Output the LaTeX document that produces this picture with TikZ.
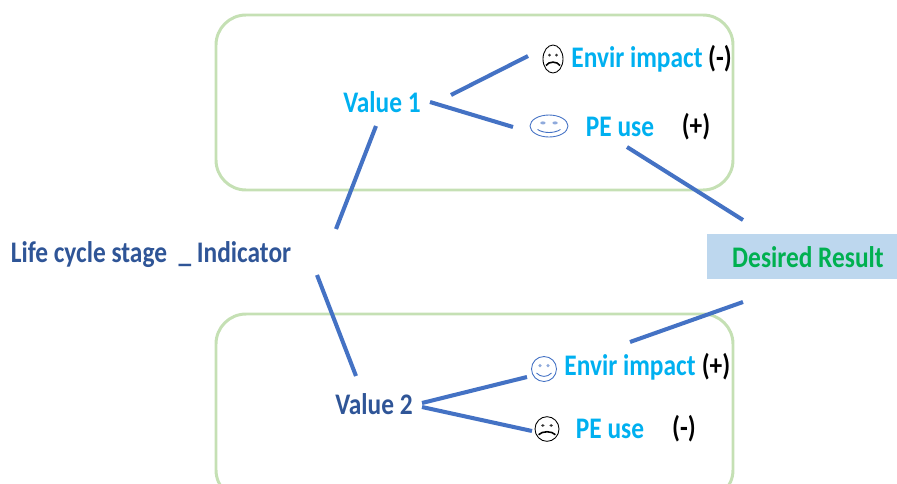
\documentclass[tikz,border=0pt]{standalone}
\usepackage{fontspec}
\setmainfont[FakeStretch=0.85]{Carlito}
\usetikzlibrary{positioning}
\definecolor{boxgreen}{HTML}{C5E0B4}
\definecolor{linkblue}{HTML}{4472C4}
\definecolor{titleblue}{HTML}{2F5597}
\definecolor{labelcyan}{HTML}{00B0F0}
\definecolor{resultgreen}{HTML}{00B050}
\definecolor{resultfill}{HTML}{BDD7EE}
\tikzset{
	groupbox/.style={draw=boxgreen,line width=1.7pt,rounded corners=0.6cm},
	link/.style={draw=linkblue,line width=2.3pt},
	txt/.style={font=\bfseries\fontsize{17}{20}\selectfont,inner sep=0pt},
	dark/.style={txt,text=titleblue},
	cyan/.style={txt,text=labelcyan},
	sign/.style={txt,text=black},
	sadface/.pic={
		\draw [black,line width=0.5pt] (0,0) ellipse [x radius=0.2cm, y radius=0.28cm];
		\fill [black!80] (-0.07cm,0.08cm) circle [radius=0.03cm] (0.07cm,0.08cm) circle [radius=0.03cm];
		\draw [black,line width=0.9pt] (-0.14cm,-0.13cm) .. controls (-0.08cm,-0.04cm) and (0.08cm,-0.04cm) .. (0.14cm,-0.13cm);
	},
	happyface/.pic={
		\draw [linkblue,line width=0.5pt] (0,0) ellipse [x radius=0.25cm, y radius=0.25cm];
		\fill [linkblue!60] (-0.08cm,0.07cm) circle [radius=0.035cm] (0.08cm,0.07cm) circle [radius=0.035cm];
		\draw [linkblue,line width=0.5pt] (-0.15cm,-0.08cm) .. controls (-0.07cm,-0.17cm) and (0.07cm,-0.17cm) .. (0.15cm,-0.08cm);
	}
}
\begin{document}
\begin{tikzpicture}[x=0.02cm,y=-0.02cm]
	\useasboundingbox (0,0) rectangle (897,484);
	\clip (0,0) rectangle (897,484);

	% Value boxes
	\draw [groupbox] (216,15) rectangle (733,190);
	\draw [groupbox] (216,314) rectangle (733,500);

	% Result
	\node [fill=resultfill,minimum width=3.8cm,minimum height=0.9cm,inner sep=0pt] (result) at (802,256.5) {};
	\node [txt,text=resultgreen] (resulttext) at (808,257) {Desired Result};

	% Root
	\node [dark] (stage) at (151,255) {Life cycle stage\ \ \_ Indicator};

	% Value 1 branch
	\node [cyan] (value1) at (382,102) {Value 1};
	\node [cyan] (envir1) at (637,59) {Envir impact};
	\node [sign] (sign1) at (720,59) {(-)};
	\node [cyan] (pe1) at (620,127) {PE use};
	\node [sign] (sign2) at (696,127) {(+)};
	\pic at (553,59) {sadface};
	\pic [xscale=1.52,yscale=0.88] at (549,126) {happyface};

	% Value 2 branch
	\node [dark] (value2) at (374,404) {Value 2};
	\node [cyan] (envir2) at (630,367) {Envir impact};
	\node [sign] (sign3) at (716,367) {(+)};
	\node [cyan] (pe2) at (610,429) {PE use};
	\node [sign] (sign4) at (684,429) {(-)};
	\pic at (544,369) {happyface};
	\pic [xscale=1.2,yscale=0.88] at (547,429) {sadface};

	% Link ends
	\coordinate (a1) at (451,95);
	\coordinate (a2) at (528,56);
	\coordinate (b1) at (430,102);
	\coordinate (b2) at (513,127);
	\coordinate (c1) at (376,126);
	\coordinate (c2) at (336,229);
	\coordinate (d1) at (627,147);
	\coordinate (d2) at (743,220);
	\coordinate (e1) at (317,275);
	\coordinate (e2) at (356,376);
	\coordinate (f1) at (422,403);
	\coordinate (f2) at (527,377);
	\coordinate (g1) at (422,407);
	\coordinate (g2) at (532,431);
	\coordinate (h1) at (743,302);
	\coordinate (h2) at (630,342);

	% Links
	\draw [link] (a1) -- (a2);
	\draw [link] (b1) -- (b2);
	\draw [link] (c1) -- (c2);
	\draw [link] (d1) -- (d2);
	\draw [link] (e1) -- (e2);
	\draw [link] (f1) -- (f2);
	\draw [link] (g1) -- (g2);
	\draw [link] (h1) -- (h2);
\end{tikzpicture}
\end{document}
